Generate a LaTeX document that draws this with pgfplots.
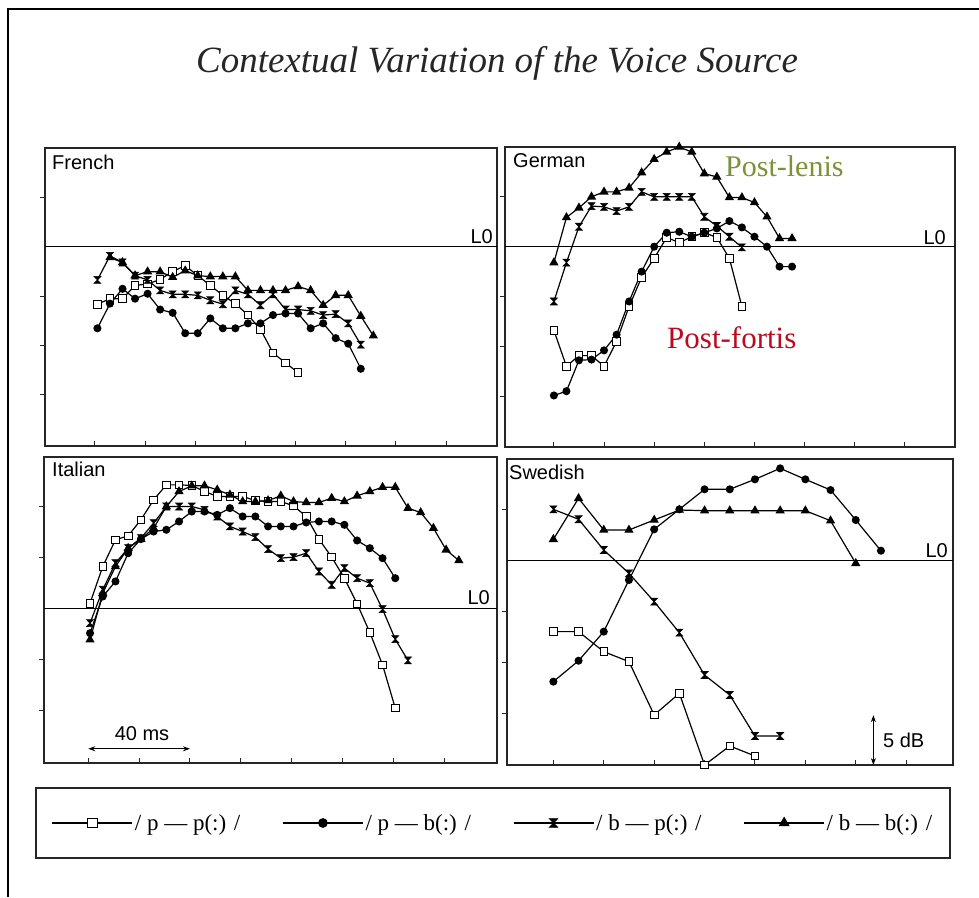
\documentclass[border=0pt]{standalone}
\usepackage{fontspec}
\setmainfont{Liberation Serif}
\newfontfamily\sansf{Liberation Sans}
\usepackage{pgfplots}
\pgfplotsset{compat=1.18}
\usetikzlibrary{arrows.meta}
\definecolor{olivelab}{RGB}{125,145,55}
\definecolor{redlab}{RGB}{185,10,30}

\pgfdeclareplotmark{hourglass}{%
  \pgfpathmoveto{\pgfqpoint{-\pgfplotmarksize}{\pgfplotmarksize}}%
  \pgfpathlineto{\pgfqpoint{\pgfplotmarksize}{\pgfplotmarksize}}%
  \pgfpathlineto{\pgfqpoint{-\pgfplotmarksize}{-\pgfplotmarksize}}%
  \pgfpathlineto{\pgfqpoint{\pgfplotmarksize}{-\pgfplotmarksize}}%
  \pgfpathclose
  \pgfusepathqfillstroke
}

\pgfplotsset{
  panel/.style={
    scale only axis, clip=false,
    axis line style={line width=1.3pt, black!85},
    tick pos=left,
    xtick={0,20,...,140},
    xticklabels={}, yticklabels={},
    major tick length=5pt,
    tick style={line width=1pt, black!85},
    ytick style={xshift=-5pt},
    every axis plot/.append style={line width=1.2pt, black},
  },
  sq/.style={mark=square*, mark options={fill=white, line width=0.9pt, solid}, mark size=3.8pt},
  ci/.style={mark=*, mark size=3.4pt},
  cr/.style={mark=hourglass, mark size=3.5pt, mark options={line width=0.6pt}},
  tr/.style={mark=triangle*, mark size=4.2pt},
}

\begin{document}
\begin{tikzpicture}
\useasboundingbox (0pt,0pt) rectangle (979pt,-897pt);

% ---------------- French ----------------
\begin{axis}[panel, at={(45pt,-446pt)}, anchor=south west,
  width=452pt, height=298pt,
  xmin=-19.9, xmax=160.3, ymin=-20.2, ymax=10.0,
  ytick={-15,-10,-5,5},
  legend style={at={(axis description cs:0.991,-1.265)}, anchor=center,
    draw=none, fill=none, legend columns=4,
    font=\fontsize{23}{26}\selectfont,
    /tikz/every even column/.append style={column sep=40pt}},
  legend image code/.code={\draw[mark repeat=2,mark phase=2,#1,/tikz/every mark/.append style={scale=1.25}] plot coordinates {(0pt,0pt) (40pt,0pt) (80pt,0pt)};},
]
\addplot[line width=1.3pt, forget plot] coordinates {(-19.9,0) (160.3,0)};
\addplot[sq] coordinates {(1,-5.83)(6,-5.27)(11,-5.27)(16,-3.93)(21,-3.77)(26,-3.33)(31,-2.5)(36,-1.93)(41,-2.93)(46,-3.93)(51,-4.93)(56,-5.77)(61,-6.93)(66,-8.37)(71,-10.77)(76,-11.77)(81,-12.77)};
\addlegendentry{/ p — p(:) /}
\addplot[ci] coordinates {(1,-8.27)(6,-5.77)(11,-4.27)(16,-5.27)(21,-4.77)(26,-6.37)(31,-6.7)(36,-8.77)(41,-8.77)(46,-7.27)(51,-8.27)(56,-8.27)(61,-7.77)(66,-7.77)(71,-6.93)(76,-6.77)(81,-6.77)(86,-8.27)(91,-7.77)(96,-9.27)(101,-9.83)(106,-12.37)};
\addlegendentry{/ p — b(:) /}
\addplot[cr] coordinates {(1,-3.37)(6,-0.93)(11,-1.6)(16,-2.93)(21,-3.37)(26,-4.43)(31,-4.83)(36,-4.83)(41,-4.93)(46,-5.43)(51,-5.83)(56,-4.43)(61,-4.83)(66,-5.93)(71,-4.83)(76,-6.37)(81,-6.37)(86,-6.5)(91,-6.93)(96,-6.83)(101,-7.77)(106,-9.93)};
\addlegendentry{/ b — p(:) /}
\addplot[tr] coordinates {(6,-1.1)(11,-1.6)(16,-2.93)(21,-2.53)(26,-2.53)(31,-3.1)(36,-2.43)(41,-2.93)(46,-3.03)(51,-3.03)(56,-3.03)(61,-4.43)(66,-4.43)(71,-4.43)(76,-4.43)(81,-4.03)(86,-4.43)(91,-5.93)(96,-4.93)(101,-4.93)(106,-7.03)(111,-9.03)};
\addlegendentry{/ b — b(:) /}
\end{axis}

% ---------------- German ----------------
\begin{axis}[panel, at={(505pt,-447pt)}, anchor=south west,
  width=450pt, height=300pt,
  xmin=-19.5, xmax=160, ymin=-20.1, ymax=10.0,
  ytick={-15,-10,-5,5}]
\addplot[line width=1.3pt] coordinates {(-19.5,0) (160,0)};
\addplot[sq] coordinates {(0,-8.4)(5,-12.0)(10,-10.93)(15,-10.93)(20,-12.0)(25,-9.5)(30,-6.0)(35,-3.07)(40,-1.17)(45,0.93)(50,0.4)(55,1.0)(60,1.4)(65,0.93)(70,-1.17)(75,-6.0)};
\addplot[ci] coordinates {(0,-14.93)(5,-14.5)(10,-11.4)(15,-11.33)(20,-10.4)(25,-8.83)(30,-5.5)(35,-2.5)(40,0)(45,1.4)(50,1.5)(55,1.0)(60,1.4)(65,1.83)(70,2.57)(75,1.93)(80,1.0)(85,0)(90,-2.0)(95,-2.0)};
\addplot[cr] coordinates {(0,-5.5)(5,-1.6)(10,2.0)(15,4.07)(20,4.0)(25,3.57)(30,4.0)(35,5.5)(40,5.0)(45,5.0)(50,5.0)(55,5.0)(60,3.0)(65,2.07)(70,1.0)(75,-0.07)};
\addplot[tr] coordinates {(0,-1.6)(5,2.93)(10,3.9)(15,5.0)(20,5.5)(25,5.5)(30,5.9)(35,7.43)(40,8.77)(45,9.5)(50,10.0)(55,9.5)(60,7.33)(65,7.0)(70,4.93)(75,4.93)(80,4.43)(85,3.0)(90,0.83)(95,0.83)};
\end{axis}

% ---------------- Italian ----------------
\begin{axis}[panel, at={(44pt,-763pt)}, anchor=south west,
  width=453pt, height=306pt,
  xmin=-17.4, xmax=160.7, ymin=-15.2, ymax=14.9,
  ytick={-10,-5,5,10}]
\addplot[line width=1.3pt] coordinates {(-17.4,0) (160.7,0)};
\addplot[sq] coordinates {(0.7,0.52)(5.7,4.13)(10.7,6.75)(15.7,7.15)(20.7,8.72)(25.7,10.69)(30.7,12.16)(35.7,12.16)(40.7,12.1)(45.7,11.51)(50.7,11.02)(55.7,11.02)(60.7,11.02)(65.7,10.62)(70.7,10.52)(75.7,10.52)(80.7,10.1)(85.7,9.05)(90.7,6.82)(95.7,5.05)(100.7,2.98)(105.7,0.46)(110.7,-2.36)(115.7,-5.54)(120.7,-9.8)};
\addplot[ci] coordinates {(0.7,-2.43)(5.7,1.18)(10.7,2.66)(15.7,5.44)(20.7,6.82)(25.7,7.57)(30.7,7.74)(35.7,8.56)(40.7,9.54)(45.7,9.54)(50.7,9.21)(55.7,9.87)(60.7,9.05)(65.7,9.05)(70.7,8.07)(75.7,8.07)(80.7,8.07)(85.7,8.46)(90.7,8.56)(95.7,8.56)(100.7,8.23)(105.7,6.69)(110.7,5.93)(115.7,4.95)(120.7,2.98)};
\addplot[cr] coordinates {(0.7,-1.44)(5.7,1.84)(10.7,4.46)(15.7,5.93)(20.7,6.92)(25.7,8.39)(30.7,10.03)(35.7,10.03)(40.7,10.03)(45.7,9.7)(50.7,9.05)(55.7,8.07)(60.7,7.57)(65.7,7.02)(70.7,5.84)(75.7,4.95)(80.7,5.05)(85.7,5.44)(90.7,3.64)(95.7,2.33)(100.7,3.97)(105.7,2.98)(110.7,2.49)(115.7,-0.07)(120.7,-3.02)(125.7,-5.11)};
\addplot[tr] coordinates {(0.7,-3.08)(5.7,1.51)(10.7,4.13)(15.7,5.93)(20.7,6.82)(25.7,7.9)(30.7,10.03)(35.7,11.51)(40.7,12.07)(45.7,12.07)(50.7,11.67)(55.7,11.18)(60.7,10.52)(65.7,10.52)(70.7,10.62)(75.7,11.08)(80.7,10.52)(85.7,10.43)(90.7,10.43)(95.7,10.85)(100.7,10.52)(105.7,11.08)(110.7,11.51)(115.7,11.93)(120.7,11.93)(125.7,9.87)(130.7,9.44)(135.7,7.9)(140.7,5.77)(145.7,4.72)};
\draw[line width=1pt, {Stealth[length=7pt,width=5pt]}-{Stealth[length=7pt,width=5pt]}] (axis cs:0,-13.8) -- (axis cs:40,-13.8);
\end{axis}

% ---------------- Swedish ----------------
\begin{axis}[panel, at={(507pt,-765pt)}, anchor=south west,
  width=446pt, height=306pt,
  xmin=-18.4, xmax=158.6, ymin=-20.1, ymax=10.0,
  ytick={-15,-10,-5,5}]
\addplot[line width=1.3pt] coordinates {(-18.4,0) (158.6,0)};
\addplot[sq] coordinates {(0,-6.98)(10,-6.98)(20,-8.95)(30,-9.93)(40,-15.18)(50,-13.05)(60,-20.1)(70,-18.23)(80,-19.21)};
\addplot[ci] coordinates {(0,-11.9)(10,-9.84)(20,-6.98)(30,-1.9)(40,3.08)(50,5.05)(60,7.02)(70,7.02)(80,8.0)(90,9.08)(100,8.0)(110,6.95)(120,4.0)(130,0.98)};
\addplot[cr] coordinates {(0,5.05)(10,4.07)(20,1.05)(30,-1.25)(40,-4.03)(50,-7.08)(60,-11.25)(70,-13.21)(80,-17.25)(90,-17.25)};
\addplot[tr] coordinates {(0,2.1)(10,6.13)(20,3.02)(30,3.02)(40,4.0)(50,4.98)(60,4.92)(70,4.92)(80,4.92)(90,4.92)(100,4.92)(110,3.93)(120,-0.26)};
\draw[line width=1pt, {Stealth[length=7pt,width=5pt]}-{Stealth[length=7pt,width=5pt]}] (axis cs:127,-15.2) -- (axis cs:127,-20.1);
\end{axis}

% ---------------- frame, title, labels ----------------
\draw[line width=2.8pt] (8pt,-897pt) -- (8pt,-9pt) -- (979pt,-9pt);
\draw[line width=1.5pt, black!85] (36pt,-788pt) rectangle (950pt,-858pt);

\node[anchor=base, inner sep=0pt, font=\fontsize{37}{42}\selectfont\itshape, text=black!85] at (497pt,-72pt) {Contextual Variation of the Voice Source};

\begin{scope}[every node/.style={inner sep=0pt, font=\sansf\fontsize{20}{24}\selectfont}]
\node[anchor=base west] at (52pt,-169pt) {French};
\node[anchor=base west] at (513pt,-167pt) {German};
\node[anchor=base west] at (52pt,-476pt) {Italian};
\node[anchor=base west] at (509pt,-479pt) {Swedish};
\node[anchor=base east] at (493pt,-243pt) {L0};
\node[anchor=base east] at (946pt,-244pt) {L0};
\node[anchor=base east] at (490pt,-604pt) {L0};
\node[anchor=base east] at (948pt,-557pt) {L0};
\node[anchor=base] at (142pt,-740pt) {40 ms};
\node[anchor=base west] at (883pt,-747pt) {5 dB};
\end{scope}

\node[anchor=base west, inner sep=0pt, font=\fontsize{30}{34}\selectfont, text=olivelab] at (725pt,-176pt) {Post-lenis};
\node[anchor=base west, inner sep=0pt, font=\fontsize{31}{34}\selectfont, text=redlab] at (667pt,-348pt) {Post-fortis};
\end{tikzpicture}
\end{document}
